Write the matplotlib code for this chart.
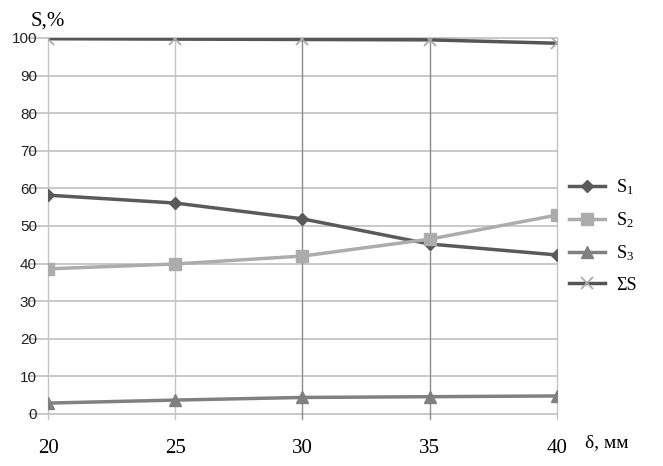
import matplotlib
matplotlib.use("Agg")
import matplotlib.pyplot as plt

plt.rcParams["mathtext.fontset"] = "custom"
plt.rcParams["mathtext.rm"] = "Liberation Serif"
plt.rcParams["mathtext.it"] = "Liberation Serif"

# thickness of the layer, mm
delta = [20, 25, 30, 35, 40]
s1 = [58.2, 56.1, 51.9, 45.2, 42.3]
s2 = [38.6, 39.9, 42.0, 46.5, 52.9]
s3 = [2.9, 3.7, 4.4, 4.6, 4.8]
s_sum = [99.8, 99.7, 99.6, 99.5, 98.6]
y_ticks = list(range(0, 101, 10))

fig = plt.figure(figsize=(6.63, 4.66), dpi=100)
ax = fig.add_axes([0.0724, 0.1116, 0.7676, 0.8069])

# gridlines drawn by hand so they can run a bit past the plot edges
for y in y_ticks:
    ax.plot([19.25, 40], [y, y], color="#c0c0c0", lw=1.2, clip_on=False, zorder=1)
vcolors = ["#c4c4c4", "#c4c4c4", "#8c8c8c", "#8c8c8c", "#c4c4c4"]
for x, c in zip(delta, vcolors):
    ax.plot([x, x], [-1.4, 100], color=c, lw=1.0, clip_on=False, zorder=1)

ax.plot(delta, s_sum, color="#555555", lw=2.5, marker="x", ms=9, mew=1.3,
        mec="#aaaaaa", label="ΣS", zorder=3)
ax.plot(delta, s1, color="#5a5a5a", lw=2.5, marker="D", ms=6.5,
        label="S$_1$", zorder=4)
ax.plot(delta, s2, color="#acacac", lw=2.5, marker="s", ms=9,
        label="S$_2$", zorder=4)
ax.plot(delta, s3, color="#808080", lw=2.5, marker="^", ms=9,
        label="S$_3$", zorder=4)

ax.set_xlim(20, 40)
ax.set_ylim(0, 100)
for sp in ax.spines.values():
    sp.set_visible(False)
ax.set_xticks(delta)
ax.set_yticks(y_ticks)
ax.tick_params(length=0)
ax.tick_params(axis="x", pad=18)
ax.tick_params(axis="y", pad=8)
for lab in ax.get_xticklabels():
    lab.set_fontfamily("Liberation Serif")
    lab.set_fontsize(15)
for lab in ax.get_yticklabels():
    lab.set_fontfamily("Liberation Sans")
    lab.set_fontsize(11)
    lab.set_color("#222222")

fig.text(0.072, 0.955, "S,%", family="Liberation Serif", fontsize=15,
         ha="center", va="center")
fig.text(0.882, 0.05, "δ, мм", family="Liberation Serif", fontsize=14,
         ha="left", va="center")

h, l = ax.get_legend_handles_labels()
order = [1, 2, 3, 0]
leg = fig.legend([h[i] for i in order], [l[i] for i in order],
                 loc="center left", bbox_to_anchor=(0.834, 0.495),
                 frameon=False, handlelength=2.0, handletextpad=0.6,
                 labelspacing=0.75,
                 prop={"family": "Liberation Serif", "size": 13})

fig.savefig("out.png", dpi=100)
